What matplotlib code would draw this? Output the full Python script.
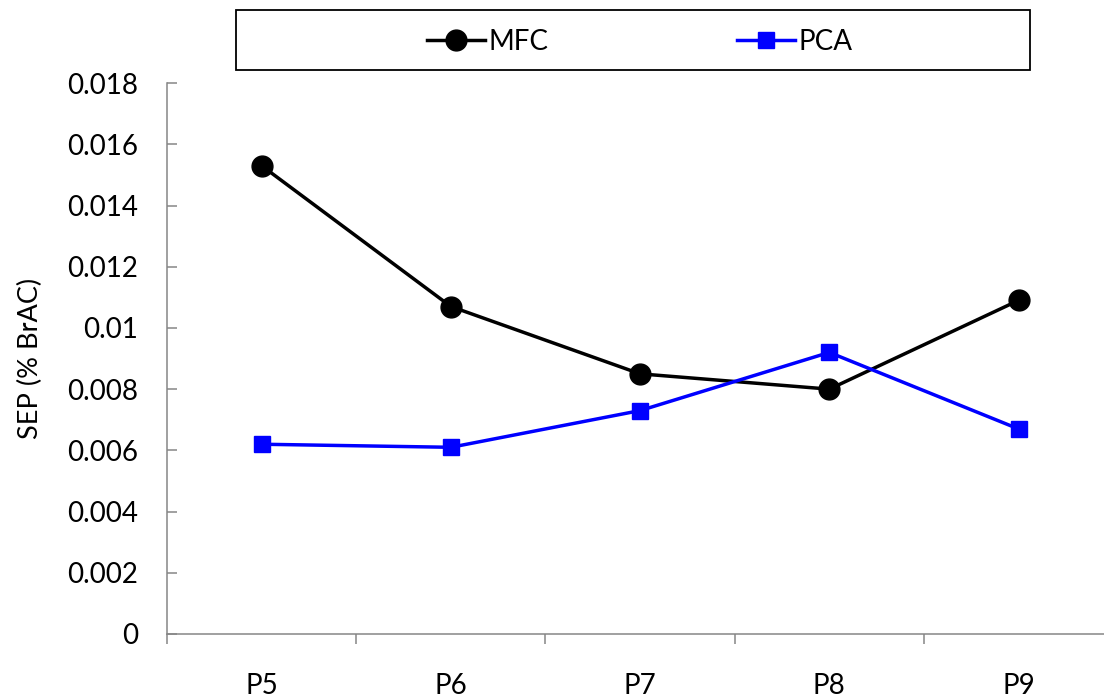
import numpy as np
import matplotlib
matplotlib.use('Agg')
import matplotlib.pyplot as plt
from matplotlib.patches import Rectangle

# Data
categories = ['P5', 'P6', 'P7', 'P8', 'P9']
mfc = [0.0153, 0.0107, 0.0085, 0.0080, 0.0109]
pca = [0.0062, 0.0061, 0.0073, 0.0092, 0.0067]

plt.rcParams['font.family'] = ['Lato', 'DejaVu Sans']
axis_grey = '#868686'
fs = 20

fig = plt.figure(figsize=(11.04, 7.0), dpi=100)
ax = fig.add_axes([0.1513, 0.0943, 0.857, 0.787])

x = np.arange(len(categories)) + 0.5
ax.plot(x, mfc, color='black', lw=2.5, marker='o', ms=15, label='MFC', clip_on=False)
ax.plot(x, pca, color='#0000FF', lw=2.5, marker='s', ms=11.5, label='PCA', clip_on=False)

ax.set_xlim(0, len(categories))
ax.set_ylim(0, 0.018)
ax.set_yticks(np.arange(0, 0.0181, 0.002))
ax.set_yticklabels(['0'] + ['%g' % v for v in np.arange(0.002, 0.0181, 0.002)])

# category boundaries as major ticks, names on minor ticks
ax.set_xticks(np.arange(0, len(categories) + 1))
ax.set_xticklabels([])
ax.set_xticks(x, minor=True)
ax.set_xticklabels(categories, minor=True)

ax.tick_params(axis='x', which='major', direction='out', length=7.5, width=1.1, color=axis_grey)
ax.tick_params(axis='x', which='minor', length=0, pad=28, labelsize=fs)
ax.tick_params(axis='y', direction='in', length=7.5, width=1.1, color=axis_grey, pad=21, labelsize=fs)

for s in ['top', 'right']:
    ax.spines[s].set_visible(False)
for s in ['left', 'bottom']:
    ax.spines[s].set_color(axis_grey)
    ax.spines[s].set_linewidth(1.1)

ax.set_ylabel('SEP (% BrAC)', fontsize=19.5, labelpad=17)

# legend box on top
fig.patches.append(Rectangle((0.2138, 0.9), 0.719, 0.0857, transform=fig.transFigure,
                             fill=False, edgecolor='black', lw=1.3))
fig.legend(loc='center', bbox_to_anchor=(0.2138 + 0.719 / 2 + 0.006, 0.9 + 0.0857 / 2 - 0.003),
           ncol=2, frameon=False, fontsize=fs, handlelength=2.1, handletextpad=0.1,
           columnspacing=6.8, markerscale=1.0)

fig.savefig('out.png', dpi=100)
